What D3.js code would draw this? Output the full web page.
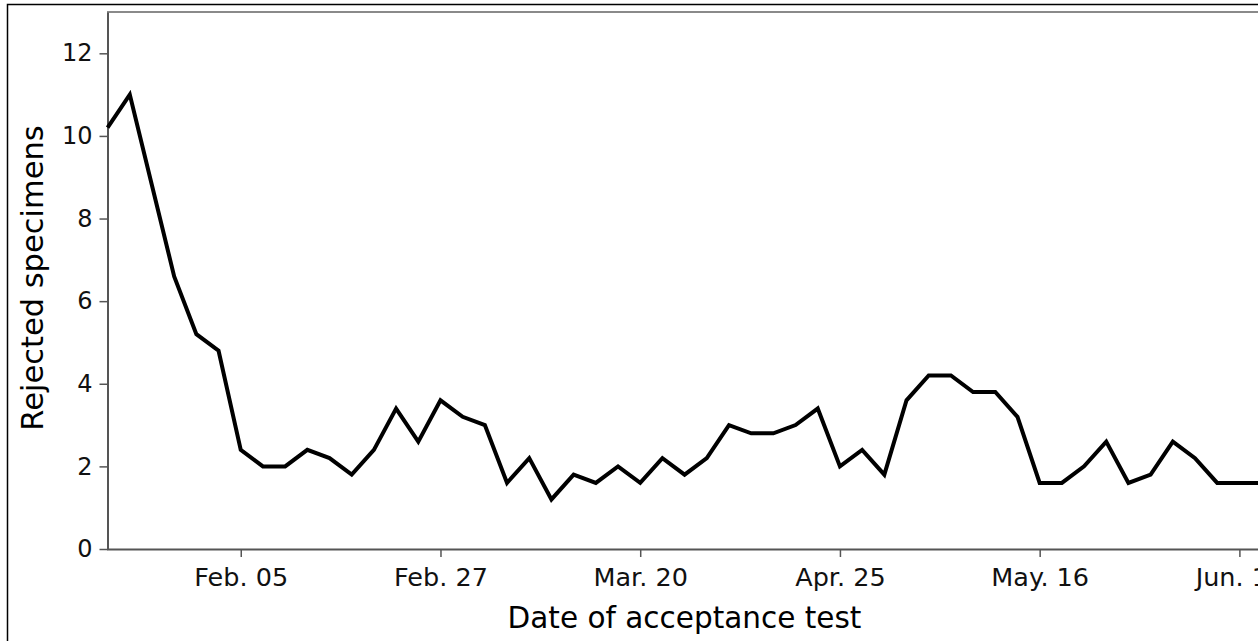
<!DOCTYPE html>
<html>
<head>
<meta charset="utf-8">
<script src="https://cdn.jsdelivr.net/npm/d3@7/dist/d3.min.js"></script>
<style>
  html, body { margin: 0; padding: 0; background: #fff; }
  svg { display: block; font-family: "DejaVu Sans", sans-serif; }
</style>
</head>
<body>
<svg id="chart" width="1258" height="641"></svg>
<script>
// Data: index of acceptance test (evenly spaced) and rejected specimens
const rejected = [10.2, 11.0, 8.8, 6.6, 5.2, 4.8, 2.4, 2.0, 2.0, 2.4,
                  2.2, 1.8, 2.4, 3.4, 2.6, 3.6, 3.2, 3.0, 1.6, 2.2,
                  1.2, 1.8, 1.6, 2.0, 1.6, 2.2, 1.8, 2.2, 3.0, 2.8,
                  2.8, 3.0, 3.4, 2.0, 2.4, 1.8, 3.6, 4.2, 4.2, 3.8,
                  3.8, 3.2, 1.6, 1.6, 2.0, 2.6, 1.6, 1.8, 2.6, 2.2,
                  1.6, 1.6, 1.6];
const tickIndices = [6, 15, 24, 33, 42, 51];
const tickLabels = ["Feb. 05", "Feb. 27", "Mar. 20", "Apr. 25", "May. 16", "Jun. 13"];
const yTicks = [0, 2, 4, 6, 8, 10, 12];
const xTitle = "Date of acceptance test";
const yTitle = "Rejected specimens";

const svg = d3.select("#chart");
const W = 1258, H = 641;

const x = d3.scaleLinear().domain([0, 51]).range([107.6, 1239.4]);
const y = d3.scaleLinear().domain([0, 13]).range([549, 12]);

// outer frame
svg.append("rect")
  .attr("x", 7.5).attr("y", 4.5)
  .attr("width", 1400).attr("height", 800)
  .attr("fill", "none").attr("stroke", "#000").attr("stroke-width", 1.5);

// top border of plot
svg.append("line")
  .attr("x1", 107).attr("x2", W + 10)
  .attr("y1", 12).attr("y2", 12)
  .attr("stroke", "#8a8a8a").attr("stroke-width", 2);

// y axis
const yAxis = svg.append("g")
  .attr("transform", "translate(107.5,0)")
  .call(d3.axisLeft(y).tickValues(yTicks).tickSize(8).tickSizeOuter(0).tickPadding(7));

// x axis
const xAxis = svg.append("g")
  .attr("transform", "translate(0,549)")
  .call(d3.axisBottom(x).tickValues(tickIndices)
    .tickFormat((d, i) => tickLabels[i]).tickSize(8).tickSizeOuter(0).tickPadding(12));
xAxis.select(".domain").attr("d", `M107,0.5H${W + 10}`);

[yAxis, xAxis].forEach(g => {
  g.select(".domain").attr("stroke", "#555").attr("stroke-width", 2);
  g.selectAll(".tick line").attr("stroke", "#555").attr("stroke-width", 1.5);
  g.selectAll(".tick text").attr("fill", "#111")
    .style("font-family", "'DejaVu Sans', sans-serif");
});
yAxis.selectAll(".tick text").style("font-size", "24px");
xAxis.selectAll(".tick text").style("font-size", "25.5px").attr("dy", "0.68em");

// line
const line = d3.line().x((d, i) => x(i)).y(d => y(d));
svg.append("path")
  .datum(rejected)
  .attr("d", line)
  .attr("fill", "none")
  .attr("stroke", "#000")
  .attr("stroke-width", 4)
  .attr("stroke-linejoin", "miter");

// titles
svg.append("text")
  .attr("x", 684.5).attr("y", 628)
  .attr("text-anchor", "middle")
  .style("font-size", "29.5px").attr("fill", "#000")
  .text(xTitle);

svg.append("text")
  .attr("transform", "translate(43,278) rotate(-90)")
  .attr("text-anchor", "middle")
  .style("font-size", "30.5px").attr("fill", "#000")
  .text(yTitle);
</script>
</body>
</html>
